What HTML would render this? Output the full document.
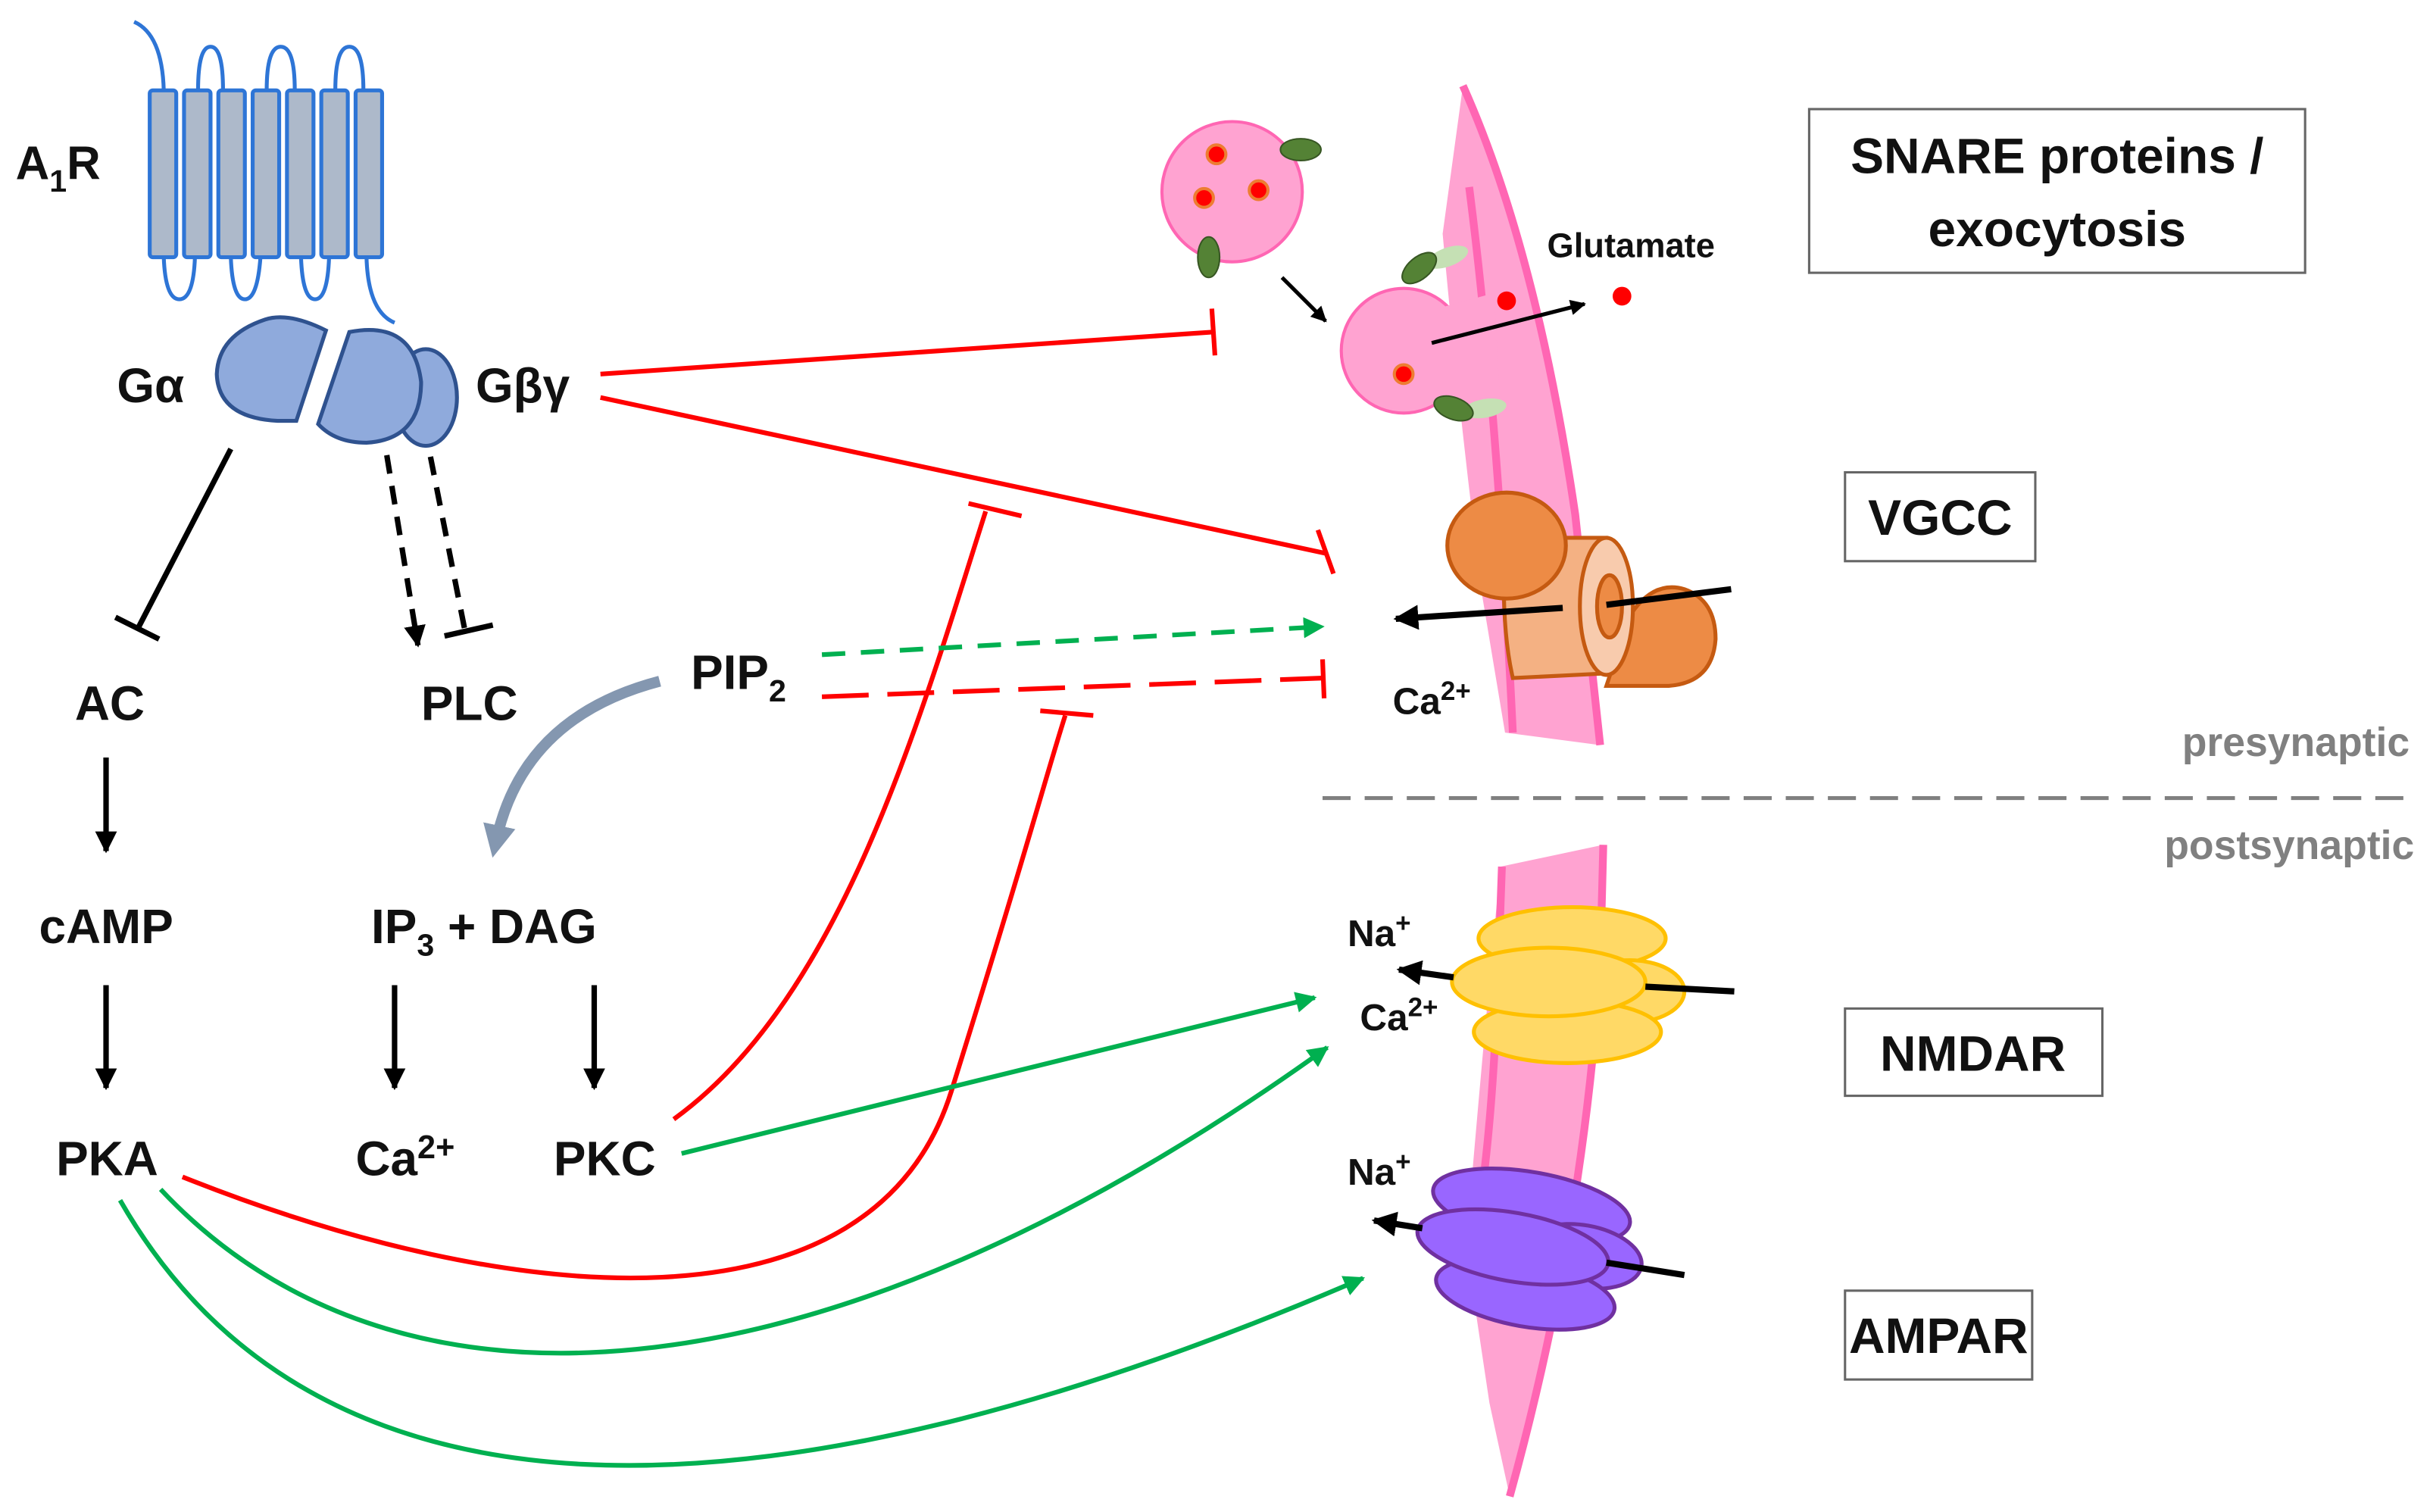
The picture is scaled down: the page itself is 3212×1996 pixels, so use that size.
<!DOCTYPE html>
<html><head><meta charset="utf-8"><style>
html,body{margin:0;padding:0;background:#fff;}
svg{display:block;}
text{font-family:"Liberation Sans",sans-serif;font-weight:bold;fill:#111;}
</style></head><body>
<svg width="3212" height="1996" viewBox="0 0 1560 970" preserveAspectRatio="none" xmlns="http://www.w3.org/2000/svg">
<defs>
<marker id="ab" viewBox="0 0 10 10" refX="9" refY="5" markerWidth="4" markerHeight="4" orient="auto" markerUnits="strokeWidth"><path d="M0,0L10,5L0,10z" fill="#000"/></marker>
<marker id="ag" viewBox="0 0 10 10" refX="9" refY="5" markerWidth="4.5" markerHeight="4.5" orient="auto" markerUnits="strokeWidth"><path d="M0,0L10,5L0,10z" fill="#00b050"/></marker>
<marker id="agr" viewBox="0 0 10 10" refX="5" refY="5" markerWidth="3" markerHeight="3" orient="auto" markerUnits="strokeWidth"><path d="M0,0L10,5L0,10z" fill="#8497b0"/></marker>
</defs>

<!-- Receptor -->
<g fill="none" stroke="#2e75d6" stroke-width="2.5">
<path d="M86,14 Q104,22 105,58"/>
<path d="M127,58 Q127,30 135,30 Q143,30 143,58"/>
<path d="M171,58 Q171,30 180,30 Q189,30 189,58"/>
<path d="M215,58 Q215,30 224,30 Q233,30 233,58"/>
<path d="M105,165 Q106,192 115,192 Q124,192 125,165"/>
<path d="M148,165 Q149,192 157,192 Q165,192 167,165"/>
<path d="M193,165 Q194,192 202,192 Q210,192 211,165"/>
<path d="M235,165 Q236,200 253,207"/>
</g>
<g fill="#adb9ca" stroke="#2e75d6" stroke-width="2.5">
<rect x="96" y="58" width="17" height="107" rx="2"/>
<rect x="118" y="58" width="17" height="107" rx="2"/>
<rect x="140" y="58" width="17" height="107" rx="2"/>
<rect x="162" y="58" width="17" height="107" rx="2"/>
<rect x="184" y="58" width="17" height="107" rx="2"/>
<rect x="206" y="58" width="17" height="107" rx="2"/>
<rect x="228" y="58" width="17" height="107" rx="2"/>
</g>
<text x="10" y="115" font-size="30">A<tspan font-size="20" dy="8">1</tspan><tspan dy="-8">R</tspan></text>

<!-- G proteins -->
<g fill="#8faadc" stroke="#2f528f" stroke-width="2.5">
<path d="M209,212 Q185,200 170,205 Q140,215 139,240 Q140,268 178,270 L190,270 Z"/>
<ellipse cx="273" cy="255" rx="20" ry="31"/>
<path d="M224,213 Q265,205 270,245 Q270,282 235,284 Q215,284 204,272 Z"/>
</g>
<text x="75" y="258" font-size="31">Gα</text>
<text x="305" y="258" font-size="31">Gβγ</text>

<!-- black connectors -->
<g stroke="#000" stroke-width="3.5" fill="none">
<path d="M148,288 L88,404"/>
<path d="M74,396 L102,410"/>
<path d="M248,292 L268,414" stroke-dasharray="12,8" marker-end="url(#ab)" stroke-width="3.5"/>
<path d="M276,293 L298,404" stroke-dasharray="12,8"/>
<path d="M285,408 L316,401"/>
<path d="M68,486 L68,546" marker-end="url(#ab)"/>
<path d="M68,632 L68,698" marker-end="url(#ab)"/>
<path d="M253,632 L253,698" marker-end="url(#ab)"/>
<path d="M381,632 L381,698" marker-end="url(#ab)"/>
</g>
<text x="48" y="462" font-size="31">AC</text>
<text x="270" y="462" font-size="31">PLC</text>
<text x="443" y="442" font-size="31">PIP<tspan font-size="20" dy="8">2</tspan></text>
<text x="25" y="605" font-size="31">cAMP</text>
<text x="238" y="605" font-size="31">IP<tspan font-size="20" dy="8">3</tspan><tspan dy="-8"> + DAG</tspan></text>
<text x="36" y="754" font-size="31">PKA</text>
<text x="228" y="754" font-size="31">Ca<tspan font-size="21" dy="-11">2+</tspan></text>
<text x="355" y="754" font-size="31">PKC</text>

<!-- gray curved arrow -->
<path d="M423,437 Q335,460 318,540" stroke="#8497b0" stroke-width="7" fill="none" marker-end="url(#agr)"/>

<!-- red inhibition -->
<g stroke="#ff0000" stroke-width="3" fill="none">
<path d="M385,240 L778,213"/>
<path d="M777,198 L779,228"/>
<path d="M385,255 L850,355"/>
<path d="M845,340 L855,368"/>
<path d="M527,447 L848,435" stroke-dasharray="30,12"/>
<path d="M848,423 L849,448"/>
<path d="M432,718 C540,640 590,460 632,328"/>
<path d="M621,323 L655,331"/>
<path d="M117,755 C330,840 560,860 610,700 S670,500 683,459"/>
<path d="M667,456 L701,459"/>
</g>
<!-- green -->
<g stroke="#00b050" stroke-width="3" fill="none">
<path d="M527,420 L848,402" stroke-dasharray="15,10" marker-end="url(#ag)"/>
<path d="M437,740 L843,640" marker-end="url(#ag)"/>
<path d="M103,763 C250,920 520,910 851,672" marker-end="url(#ag)"/>
<path d="M77,770 C200,985 480,990 874,820" marker-end="url(#ag)"/>
</g>

<!-- presynaptic membrane -->
<path d="M938,55 Q985,160 1010,330 L1026,478 L965,470 L950,380 Q935,260 925,150 Z" fill="#ffa3d1"/>
<path d="M938,55 Q985,160 1010,330 L1026,478" fill="none" stroke="#ff66b3" stroke-width="5"/>
<path d="M942,120 Q960,260 970,470" fill="none" stroke="#ff66b3" stroke-width="5"/>

<!-- vesicles -->
<circle cx="790" cy="123" r="45" fill="#ffa3d1" stroke="#ff66b3" stroke-width="2"/>
<circle cx="900" cy="225" r="40" fill="#ffa3d1" stroke="#ff66b3" stroke-width="2"/>
<path d="M925,197 L958,188 L962,262 L925,255 Z" fill="#ffa3d1"/>
<g fill="#ff0000" stroke="#ed7d31" stroke-width="2">
<circle cx="780" cy="99" r="6"/><circle cx="772" cy="127" r="6"/><circle cx="807" cy="122" r="6"/>
<circle cx="900" cy="240" r="6"/>
</g>
<ellipse cx="834" cy="96" rx="13" ry="7" fill="#548235" stroke="#375623"/>
<ellipse cx="775" cy="165" rx="7" ry="13" fill="#548235" stroke="#375623"/>
<ellipse cx="928" cy="165" rx="14" ry="6" fill="#c5e0b4" transform="rotate(-20 928 165)"/>
<ellipse cx="910" cy="172" rx="13" ry="7" fill="#548235" stroke="#375623" transform="rotate(-40 910 172)"/>
<ellipse cx="952" cy="262" rx="14" ry="6" fill="#c5e0b4" transform="rotate(-10 952 262)"/>
<ellipse cx="932" cy="262" rx="13" ry="7" fill="#548235" stroke="#375623" transform="rotate(20 932 262)"/>
<circle cx="966" cy="193" r="6" fill="#ff0000"/>
<circle cx="1040" cy="190" r="6" fill="#ff0000"/>
<path d="M822,178 L850,206" stroke="#000" stroke-width="2.5" marker-end="url(#ab)"/>
<path d="M918,220 L1016,195" stroke="#000" stroke-width="2.5" marker-end="url(#ab)"/>
<text x="992" y="165" font-size="22">Glutamate</text>

<!-- VGCC -->
<g stroke="#c55a11" stroke-width="2.5">
<path d="M1045,395 Q1060,372 1080,378 Q1100,385 1100,410 Q1098,438 1070,440 L1030,440 Z" fill="#ed8b45"/>
<path d="M965,345 L1030,345 L1030,432 L970,435 Q962,400 965,345Z" fill="#f4b183"/>
<ellipse cx="1030" cy="389" rx="17" ry="44" fill="#f8cbad"/>
<ellipse cx="1032" cy="389" rx="8" ry="20" fill="#ed8b45"/>
<ellipse cx="966" cy="350" rx="38" ry="34" fill="#ed8b45"/>
</g>
<path d="M1110,378 L1030,388" stroke="#000" stroke-width="4"/>
<path d="M1002,390 L895,397" stroke="#000" stroke-width="4" marker-end="url(#ab)"/>
<text x="893" y="458" font-size="24">Ca<tspan font-size="17" dy="-9">2+</tspan></text>

<!-- divider -->
<path d="M848,512 L1545,512" stroke="#808080" stroke-width="2.5" stroke-dasharray="18,9"/>
<text x="1545" y="485" font-size="26" text-anchor="end" style="fill:#808080">presynaptic</text>
<text x="1548" y="551" font-size="26" text-anchor="end" style="fill:#808080">postsynaptic</text>

<!-- postsynaptic membrane -->
<path d="M962,556 L1028,542 L1026,620 Q1015,790 968,960 L955,900 L940,800 Q950,680 962,556Z" fill="#ffa3d1"/>
<path d="M1028,542 L1026,620 Q1015,790 968,960" fill="none" stroke="#ff66b3" stroke-width="5"/>
<path d="M963,556 L960,640 Q955,760 940,820" fill="none" stroke="#ff66b3" stroke-width="5"/>

<!-- NMDAR -->
<g fill="#ffd966" stroke="#ffc000" stroke-width="2.5">
<ellipse cx="1008" cy="602" rx="60" ry="20"/>
<ellipse cx="1045" cy="636" rx="35" ry="20"/>
<ellipse cx="1005" cy="662" rx="60" ry="20"/>
<ellipse cx="993" cy="630" rx="62" ry="22"/>
</g>
<path d="M1055,633 L1112,636" stroke="#000" stroke-width="4"/>
<path d="M932,627 L897,622" stroke="#000" stroke-width="4" marker-end="url(#ab)"/>
<text x="864" y="607" font-size="24">Na<tspan font-size="17" dy="-9">+</tspan></text>
<text x="872" y="661" font-size="24">Ca<tspan font-size="17" dy="-9">2+</tspan></text>

<!-- AMPAR -->
<g fill="#9966ff" stroke="#7030a0" stroke-width="2.5">
<ellipse cx="982" cy="774" rx="64" ry="22" transform="rotate(10 982 774)"/>
<ellipse cx="1015" cy="806" rx="38" ry="20" transform="rotate(10 1015 806)"/>
<ellipse cx="978" cy="830" rx="58" ry="21" transform="rotate(10 978 830)"/>
<ellipse cx="970" cy="800" rx="62" ry="22" transform="rotate(10 970 800)"/>
</g>
<path d="M1030,810 L1080,818" stroke="#000" stroke-width="4"/>
<path d="M912,788 L881,783" stroke="#000" stroke-width="4" marker-end="url(#ab)"/>
<text x="864" y="760" font-size="24">Na<tspan font-size="17" dy="-9">+</tspan></text>

<!-- boxes -->
<g fill="#fff" stroke="#666" stroke-width="1.5">
<rect x="1160" y="70" width="318" height="105"/>
<rect x="1183" y="303" width="122" height="57"/>
<rect x="1183" y="647" width="165" height="56"/>
<rect x="1183" y="828" width="120" height="57"/>
</g>
<text x="1319" y="111" font-size="32" text-anchor="middle">SNARE proteins /</text>
<text x="1319" y="158" font-size="32" text-anchor="middle">exocytosis</text>
<text x="1244" y="343" font-size="32" text-anchor="middle">VGCC</text>
<text x="1265" y="687" font-size="32" text-anchor="middle">NMDAR</text>
<text x="1243" y="868" font-size="32" text-anchor="middle">AMPAR</text>
</svg>
</body></html>
